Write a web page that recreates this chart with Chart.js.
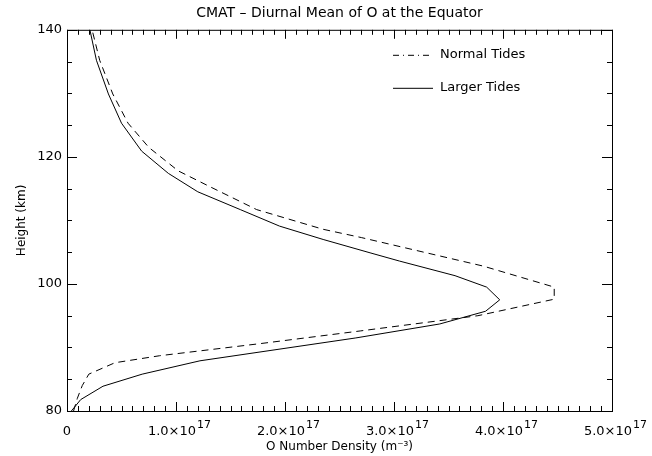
<!DOCTYPE html>
<html>
<head>
<meta charset="utf-8">
<script src="https://cdn.jsdelivr.net/npm/chart.js@4"></script>
<style>
  html, body { margin: 0; padding: 0; background: #fff; }
  #wrap { width: 652px; height: 456px; }
</style>
</head>
<body>
<div id="wrap"><canvas id="oChart"></canvas></div>
<script>
// heights in km, densities in m^-3
const normalHeights = [80.0, 82.0, 84.0, 85.8, 87.6, 88.7, 90.6, 92.6, 95.0, 97.6, 99.5, 102.8, 107.3, 108.6, 111.7, 115.4, 117.8, 121.5, 125.3, 129.9, 135.2, 140.0];
const normalDensity = [0.06e17, 0.095e17, 0.14e17, 0.20e17, 0.44e17, 0.85e17, 1.77e17, 2.69e17, 3.77e17, 4.47e17, 4.47e17, 3.82e17, 2.70e17, 2.35e17, 1.74e17, 1.30e17, 1.02e17, 0.75e17, 0.56e17, 0.42e17, 0.30e17, 0.23e17];

const largerHeights = [80.0, 81.8, 83.9, 85.8, 87.9, 91.5, 93.7, 95.7, 97.5, 99.5, 101.3, 103.6, 104.9, 107.0, 109.1, 111.7, 114.5, 117.4, 120.9, 125.3, 129.9, 135.2, 140.0];
const largerDensity = [0.04e17, 0.126e17, 0.33e17, 0.69e17, 1.22e17, 2.65e17, 3.42e17, 3.84e17, 3.97e17, 3.85e17, 3.56e17, 3.05e17, 2.78e17, 2.35e17, 1.95e17, 1.59e17, 1.20e17, 0.93e17, 0.685e17, 0.50e17, 0.38e17, 0.27e17, 0.21e17];

const seriesNames = ["Normal Tides", "Larger Tides"];
const xTicks = [0, 1e17, 2e17, 3e17, 4e17, 5e17];
const yTicks = [80, 100, 120, 140];

const FONT = "'DejaVu Sans', sans-serif";

function toPoints(xs, ys) {
    return xs.map(function (x, i) { return { x: x, y: ys[i] }; });
}

// frame, inward ticks (major + minor) on all four sides, x tick labels with
// raised exponents, and the in-plot legend
const framePlugin = {
    id: "frame",
    afterDraw(chart) {
        const ctx = chart.ctx;
        const a = chart.chartArea;
        const xs = chart.scales.x, ys = chart.scales.y;
        ctx.save();
        ctx.strokeStyle = "#000";
        ctx.lineWidth = 1;
        ctx.setLineDash([]);
        ctx.strokeRect(a.left + 0.5, a.top + 0.5, a.right - a.left, a.bottom - a.top);

        ctx.beginPath();
        for (let i = 0; i <= 50; i++) {
            const v = i * 1e16;
            const px = Math.round(xs.getPixelForValue(v)) + 0.5;
            const len = (i % 10 === 0) ? 9 : 5;
            ctx.moveTo(px, a.bottom); ctx.lineTo(px, a.bottom - len);
            ctx.moveTo(px, a.top); ctx.lineTo(px, a.top + len);
        }
        for (let h = 80; h <= 140; h += 5) {
            const py = Math.round(ys.getPixelForValue(h)) + 0.5;
            const len = (h % 20 === 0) ? 10 : 5;
            ctx.moveTo(a.left, py); ctx.lineTo(a.left + len, py);
            ctx.moveTo(a.right, py); ctx.lineTo(a.right - len, py);
        }
        ctx.stroke();

        // x tick labels
        ctx.fillStyle = "#000";
        ctx.textBaseline = "alphabetic";
        ctx.textAlign = "left";
        const baseY = a.bottom + 24;
        xTicks.forEach(function (v) {
            const px = xs.getPixelForValue(v);
            if (v === 0) {
                ctx.font = "13px " + FONT;
                ctx.textAlign = "center";
                ctx.fillText("0", px, baseY);
                ctx.textAlign = "left";
                return;
            }
            const base = (v / 1e17).toFixed(1) + "\u00d710";
            const exp = "17";
            ctx.font = "13px " + FONT;
            const wb = ctx.measureText(base).width;
            ctx.font = "11px " + FONT;
            const we = ctx.measureText(exp).width;
            const x0 = px - (wb + we) / 2 + 3;
            ctx.font = "13px " + FONT;
            ctx.fillText(base, x0, baseY);
            ctx.font = "11px " + FONT;
            ctx.fillText(exp, x0 + wb + 1, baseY - 7);
        });

        // legend
        const lx = a.left + 326, ly = a.top + 25;
        ctx.font = "13px " + FONT;
        ctx.textBaseline = "middle";
        ctx.setLineDash([6, 4, 1, 4]);
        ctx.beginPath();
        ctx.moveTo(lx, ly + 0.5); ctx.lineTo(lx + 40, ly + 0.5);
        ctx.stroke();
        ctx.fillText(seriesNames[0], lx + 47, ly);
        ctx.setLineDash([]);
        ctx.beginPath();
        ctx.moveTo(lx, ly + 33.5); ctx.lineTo(lx + 40, ly + 33.5);
        ctx.stroke();
        ctx.fillText(seriesNames[1], lx + 47, ly + 33);
        ctx.restore();
    }
};

document.addEventListener("DOMContentLoaded", function () {
    const ctx = document.getElementById("oChart").getContext("2d");
    new Chart(ctx, {
        type: "scatter",
        data: {
            datasets: [{
                label: seriesNames[0],
                data: toPoints(normalDensity, normalHeights),
                showLine: true,
                borderColor: "#000",
                borderWidth: 1,
                borderDash: [7, 5],
                pointRadius: 0,
                tension: 0
            }, {
                label: seriesNames[1],
                data: toPoints(largerDensity, largerHeights),
                showLine: true,
                borderColor: "#000",
                borderWidth: 1,
                pointRadius: 0,
                tension: 0
            }]
        },
        options: {
            responsive: true,
            maintainAspectRatio: false,
            animation: false,
            layout: { padding: { left: 0, right: 40, top: 0, bottom: 0 } },
            plugins: {
                legend: { display: false },
                tooltip: { enabled: false },
                title: {
                    display: true,
                    fullSize: false,
                    text: "CMAT \u2013 Diurnal Mean of O at the Equator",
                    color: "#000",
                    font: { family: FONT, size: 14, weight: "normal" },
                    padding: { top: 5, bottom: 8 }
                }
            },
            scales: {
                x: {
                    type: "linear",
                    min: 0,
                    max: 5e17,
                    afterBuildTicks: function (scale) {
                        scale.ticks = xTicks.map(function (v) { return { value: v }; });
                    },
                    afterFit: function (scale) { scale.height = 45; },
                    grid: { display: false, drawTicks: false },
                    border: { display: false },
                    ticks: { display: false },
                    title: {
                        display: true,
                        text: "O Number Density (m\u207b\u00b3)",
                        color: "#000",
                        font: { family: FONT, size: 12 },
                        padding: { top: 0, bottom: 2 }
                    }
                },
                y: {
                    type: "linear",
                    min: 80,
                    max: 140,
                    afterBuildTicks: function (scale) {
                        scale.ticks = yTicks.map(function (v) { return { value: v }; });
                    },
                    afterFit: function (scale) { scale.width = 67; },
                    grid: { display: false, drawTicks: false },
                    border: { display: false },
                    ticks: {
                        color: "#000",
                        padding: 5,
                        font: { family: FONT, size: 13 }
                    },
                    title: {
                        display: true,
                        text: "Height (km)",
                        color: "#000",
                        font: { family: FONT, size: 12 },
                        padding: { top: 15, bottom: 4 }
                    }
                }
            }
        },
        plugins: [framePlugin]
    });
});
</script>
</body>
</html>
